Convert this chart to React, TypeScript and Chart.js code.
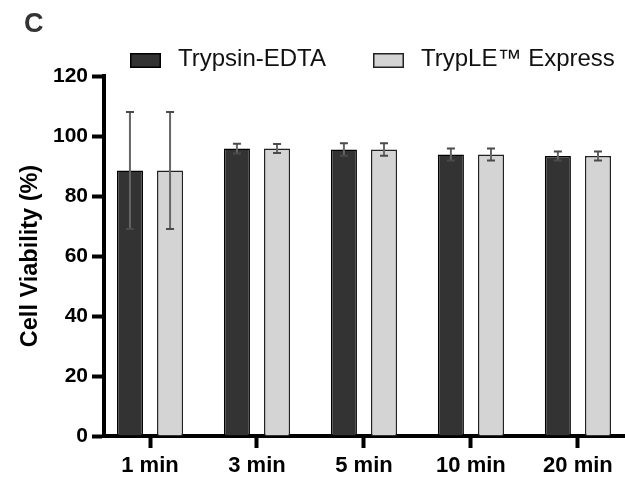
import React, { useEffect, useRef } from 'react';
import { Chart, registerables } from 'chart.js';

Chart.register(...registerables);

const panelLabel = 'C';
const categories = ['1 min', '3 min', '5 min', '10 min', '20 min'];
const seriesNames = ['Trypsin-EDTA', 'TrypLE™ Express'];
const trypsinMeans = [88.5, 95.8, 95.5, 93.8, 93.3];
const trypsinErrors = [19.5, 1.6, 2.1, 2.0, 1.5];
const tryplEMeans = [88.5, 95.8, 95.5, 93.8, 93.3];
const tryplEErrors = [19.5, 1.5, 2.1, 2.0, 1.5];
const yTicks = [0, 20, 40, 60, 80, 100, 120];
const yTitle = 'Cell Viability (%)';

const FONT = '"Liberation Sans", Arial, Helvetica, sans-serif';

const errorBarPlugin = {
  id: 'errorBars',
  afterDatasetsDraw(chart: any) {
    const { ctx } = chart;
    const yScale = chart.scales.y;
    ctx.save();
    chart.data.datasets.forEach((ds: any, di: number) => {
      const meta = chart.getDatasetMeta(di);
      meta.data.forEach((bar: any, i: number) => {
        const v = ds.data[i].y;
        const e = ds.errors[i];
        const yTop = yScale.getPixelForValue(v + e);
        const yBot = yScale.getPixelForValue(v - e);
        const x = bar.x;
        ctx.strokeStyle = '#666';
        ctx.lineWidth = 2;
        ctx.beginPath();
        ctx.moveTo(x, yTop);
        ctx.lineTo(x, yBot);
        ctx.stroke();
        ctx.strokeStyle = '#4a4a4a';
        ctx.beginPath();
        ctx.moveTo(x - 4, yTop);
        ctx.lineTo(x + 4, yTop);
        ctx.moveTo(x - 4, yBot);
        ctx.lineTo(x + 4, yBot);
        ctx.stroke();
      });
    });
    ctx.restore();
  },
};

const decorPlugin = {
  id: 'decor',
  afterDraw(chart: any) {
    const { ctx } = chart;
    ctx.save();
    ctx.textBaseline = 'alphabetic';
    ctx.textAlign = 'left';
    ctx.fillStyle = '#333';
    ctx.font = `bold 27px ${FONT}`;
    ctx.fillText(panelLabel, 24, 32);

    ctx.font = `24px ${FONT}`;
    let boxX = 130;
    chart.data.datasets.forEach((ds: any) => {
      ctx.fillStyle = ds.backgroundColor;
      ctx.fillRect(boxX, 53, 31, 15);
      ctx.strokeStyle = ds.borderColor;
      ctx.lineWidth = 1.5;
      ctx.strokeRect(boxX + 0.75, 53.75, 29.5, 13.5);
      const textX = boxX + 48;
      ctx.fillStyle = '#111';
      ctx.fillText(ds.label, textX, 65.5);
      boxX = textX + ctx.measureText(ds.label).width + 47;
    });
    ctx.restore();
  },
};

export default function App() {
  const ref = useRef<HTMLCanvasElement>(null);

  useEffect(() => {
    const canvas = ref.current;
    if (!canvas) return;
    const chart = new Chart(canvas, {
      type: 'bar',
      data: {
        datasets: [
          {
            label: seriesNames[0],
            data: categories.map((_, i) => ({ x: i, y: trypsinMeans[i] })),
            errors: trypsinErrors,
            backgroundColor: '#333333',
            borderColor: '#000000',
            borderWidth: 1.5,
            categoryPercentage: 0.75,
            barPercentage: 0.65,
          } as any,
          {
            label: seriesNames[1],
            data: categories.map((_, i) => ({ x: i, y: tryplEMeans[i] })),
            errors: tryplEErrors,
            backgroundColor: '#d4d4d4',
            borderColor: '#222222',
            borderWidth: 1.5,
            categoryPercentage: 0.75,
            barPercentage: 0.65,
          } as any,
        ],
      },
      options: {
        animation: false,
        responsive: false,
        devicePixelRatio: 1,
        layout: { padding: { top: 76, left: 0, right: 0, bottom: 0 } },
        plugins: {
          legend: { display: false },
          tooltip: { enabled: false },
          title: { display: false },
        },
        scales: {
          x: {
            type: 'linear',
            min: -0.43,
            max: 4.44,
            offset: false,
            afterFit: (s: any) => {
              s.height = 42;
            },
            border: { display: true, color: '#000', width: 4 },
            grid: {
              display: true,
              offset: false,
              drawOnChartArea: false,
              drawTicks: true,
              tickLength: 12,
              tickWidth: 4,
              tickColor: '#000',
              color: '#000',
            },
            ticks: {
              stepSize: 1,
              includeBounds: false,
              autoSkip: false,
              maxRotation: 0,
              padding: 5,
              color: '#000',
              font: { family: FONT, size: 22, weight: 'bold' },
              callback: (v: any) =>
                Number.isInteger(v) && categories[v] !== undefined ? categories[v] : '',
            },
          } as any,
          y: {
            type: 'linear',
            min: yTicks[0],
            max: yTicks[yTicks.length - 1],
            afterFit: (s: any) => {
              s.width = 104;
            },
            border: { display: true, color: '#000', width: 4 },
            grid: {
              display: true,
              drawOnChartArea: false,
              drawTicks: true,
              tickLength: 12,
              tickWidth: 4,
              tickColor: '#000',
              color: '#000',
            },
            ticks: {
              stepSize: yTicks[1] - yTicks[0],
              padding: 4,
              color: '#000',
              font: { family: FONT, size: 21, weight: 'bold' },
            },
            title: {
              display: true,
              text: yTitle,
              color: '#000',
              font: { family: FONT, size: 23.5, weight: 'bold' },
              padding: { top: 16, bottom: 0 },
            },
          } as any,
        },
      },
      plugins: [errorBarPlugin, decorPlugin],
    } as any);
    return () => chart.destroy();
  }, []);

  return (
    <div
      style={{
        position: 'fixed',
        left: 0,
        top: 0,
        width: 625,
        height: 478,
        background: '#fff',
        overflow: 'hidden',
      }}
    >
      <canvas
        ref={ref}
        width={625}
        height={478}
        style={{ display: 'block', width: 625, height: 478 }}
      />
    </div>
  );
}
